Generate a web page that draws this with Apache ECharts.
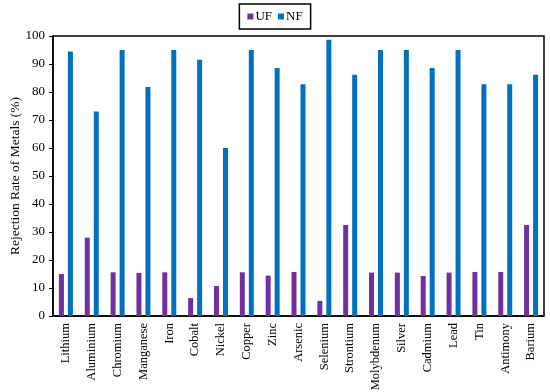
<!DOCTYPE html>
<html><head><meta charset="utf-8">
<script src="https://cdn.jsdelivr.net/npm/echarts@6/dist/echarts.min.js"></script>
<style>html,body{margin:0;padding:0;background:#fff}#c{width:550px;height:392px}</style>
</head><body><div id="c"></div>
<script>
const categories = ["Lithium","Aluminium","Chromium","Manganese","Iron","Cobalt","Nickel","Copper","Zinc","Arsenic","Selenium","Strontium","Molybdenum","Silver","Cadmium","Lead","Tin","Antimony","Barium"];
const ufValues = [15, 28, 15.6, 15.4, 15.6, 6.4, 10.7, 15.6, 14.4, 15.7, 5.4, 32.5, 15.5, 15.5, 14.3, 15.5, 15.7, 15.7, 32.5];
const nfValues = [94.5, 73, 95, 81.8, 95, 91.5, 60, 95, 88.6, 82.8, 98.7, 86.2, 95, 95, 88.6, 95, 82.8, 82.8, 86.2];
const yTicks = [0, 10, 20, 30, 40, 50, 60, 70, 80, 90, 100];

const font = "'Liberation Serif', 'Times New Roman', serif";
const chart = echarts.init(document.getElementById('c'), null, {renderer: 'canvas'});
chart.setOption({
  animation: false,
  textStyle: {fontFamily: font, color: '#000'},
  legend: {
    top: 4, left: 'center',
    data: ['UF', 'NF'],
    itemWidth: 6, itemHeight: 6, itemGap: 6,
    icon: 'rect',
    borderColor: '#000', borderWidth: 1.5, padding: [6, 8],
    textStyle: {fontFamily: font, fontSize: 13, color: '#000', padding: [0, 0, 0, -3]}
  },
  grid: {left: 53, right: 6, top: 36, bottom: 76, show: true, borderColor: '#000', borderWidth: 1.5, containLabel: false, outerBoundsMode: 'none'},
  xAxis: {
    type: 'category', data: categories,
    axisLine: {lineStyle: {color: '#000', width: 1.5}},
    axisTick: {alignWithLabel: true, length: 4, lineStyle: {color: '#000'}},
    axisLabel: {rotate: 90, fontFamily: font, fontSize: 12.5, color: '#000', margin: 7}
  },
  yAxis: {
    type: 'value', min: yTicks[0], max: yTicks[yTicks.length - 1], interval: 10,
    name: 'Rejection Rate of Metals (%)', nameLocation: 'middle', nameGap: 38, nameMoveOverlap: false,
    nameTextStyle: {fontFamily: font, fontSize: 13.5, color: '#000', verticalAlign: 'middle'},
    axisLine: {show: true, lineStyle: {color: '#000', width: 1.5}},
    axisTick: {show: true, length: 4, lineStyle: {color: '#000'}},
    splitLine: {show: false},
    axisLabel: {fontFamily: font, fontSize: 13, color: '#000', margin: 8}
  },
  series: [
    {name: 'UF', type: 'bar', data: ufValues, barWidth: 5, barGap: '80%', itemStyle: {color: '#7030A0'}},
    {name: 'NF', type: 'bar', data: nfValues, barWidth: 5, barGap: '80%', itemStyle: {color: '#0070C0'}}
  ]
});
</script></body></html>
